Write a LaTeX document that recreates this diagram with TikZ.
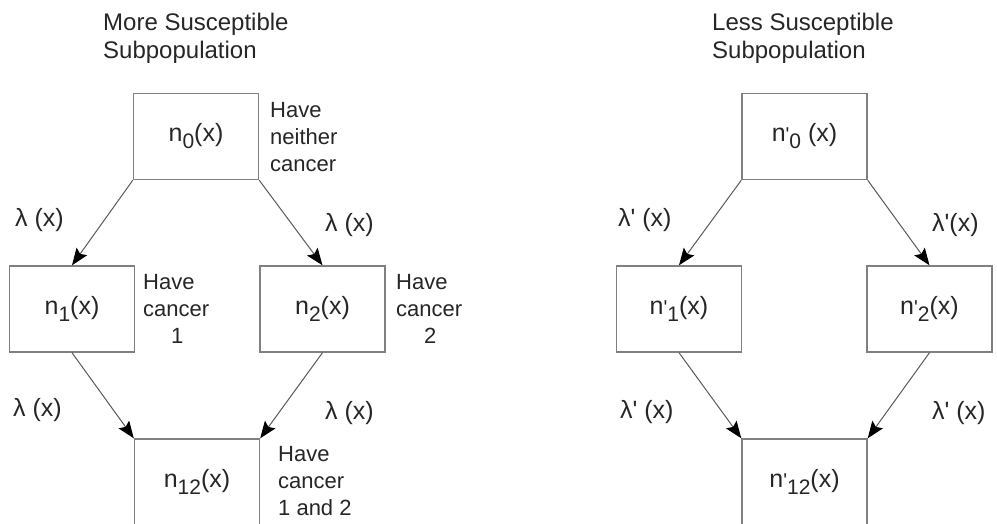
\documentclass[tikz,border=0pt]{standalone}
\usepackage{fontspec}
\setmainfont{Liberation Sans}
\usetikzlibrary{arrows.meta,positioning}
\newcommand{\prm}{\textquotesingle}
\newcommand{\idx}[2][]{{\fontsize{20}{20}\selectfont #1}\raisebox{-7pt}{\fontsize{21}{21}\selectfont #2}}

\begin{document}
\begin{tikzpicture}
[x=1pt,y=-1pt,text=black!85,
state/.style={rectangle,draw=black!50,line width=1.4pt,minimum width=125pt,minimum height=86pt,inner sep=0pt,font=\fontsize{25}{28}\selectfont},
rate/.style={anchor=west,inner sep=0pt,font=\fontsize{25}{28}\selectfont},
note/.style={anchor=north west,align=left,inner sep=0pt,font=\fontsize{22}{27}\selectfont},
heading/.style={anchor=north west,align=left,inner sep=0pt,font=\fontsize{24}{28}\selectfont},
flow/.style={draw=black!65,line width=1pt,-{Stealth[black,length=17pt,width=13pt,inset=3pt]}}]
\useasboundingbox (0,0) rectangle (997,523);
% more susceptible
\node[heading] (more title) at (103,13) {More Susceptible\\Subpopulation};
\node[state] (neither more) at (196,136.5) {n\idx{0}(x)};
\node[state] (first more) at (72,309) {n\idx{1}(x)};
\node[state] (second more) at (322.5,309) {n\idx{2}(x)};
\node[state] (both more) at (197,482) {n\idx{12}(x)};
\node[note] (neither more note) at (270,102) {Have\\neither\\cancer};
\node[note] (first more note) at (143,274) {Have\\cancer\\\hspace*{28pt}1};
\node[note] (second more note) at (396,274) {Have\\cancer\\\hspace*{28pt}2};
\node[note] (both more note) at (278,446) {Have\\cancer\\1 and 2};
\node[rate] (rate a more) at (15,220) {λ (x)};
\node[rate] (rate b more) at (325,225) {λ (x)};
\node[rate] (rate c more) at (13,410) {λ (x)};
\node[rate] (rate d more) at (325,413) {λ (x)};
\draw[flow] (neither more.south west) -- (first more.north);
\draw[flow] (neither more.south east) -- (second more.north);
\draw[flow] (first more.south) -- (both more.north west);
\draw[flow] (second more.south) -- (both more.north east);
% less susceptible
\node[heading] (less title) at (712,13) {Less Susceptible\\Subpopulation};
\node[state] (neither less) at (804.5,136.5) {n\idx[\prm]{0} (x)};
\node[state] (first less) at (679,309) {n\idx[\prm]{1}(x)};
\node[state] (second less) at (929.5,309) {n\idx[\prm]{2}(x)};
\node[state] (both less) at (804.5,482) {n\idx[\prm]{12}(x)};
\node[rate] (rate a less) at (618,220) {λ\prm{} (x)};
\node[rate] (rate b less) at (932,225) {λ\prm(x)};
\node[rate] (rate c less) at (620,412) {λ\prm{} (x)};
\node[rate] (rate d less) at (932,413) {λ\prm{} (x)};
\draw[flow] (neither less.south west) -- (first less.north);
\draw[flow] (neither less.south east) -- (second less.north);
\draw[flow] (first less.south) -- (both less.north west);
\draw[flow] (second less.south) -- (both less.north east);
\end{tikzpicture}
\end{document}
